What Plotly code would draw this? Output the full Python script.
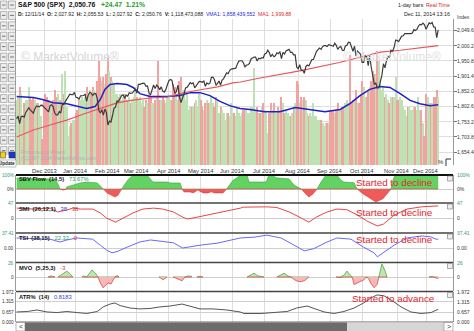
import plotly.graph_objects as go

W, H = 474, 331
FONT = "Liberation Sans, Arial, sans-serif"

# ---------------- trading days (x categories) ----------------
days_2013_11 = [5, 6, 7, 8, 11, 12, 13, 14, 15, 18, 19, 20, 21, 22, 25, 26, 27, 29]
days_2013_12 = [2, 3, 4, 5, 6, 9, 10, 11, 12, 13, 16, 17, 18, 19, 20, 23, 24, 26, 27, 30, 31]
days_2014_01 = [2, 3, 6, 7, 8, 9, 10, 13, 14, 15, 16, 17, 21, 22, 23, 24, 27, 28, 29, 30, 31]
days_2014_02 = [3, 4, 5, 6, 7, 10, 11, 12, 13, 14, 18, 19, 20, 21, 24, 25, 26, 27, 28]
days_2014_03 = [3, 4, 5, 6, 7, 10, 11, 12, 13, 14, 17, 18, 19, 20, 21, 24, 25, 26, 27, 28, 31]
days_2014_04 = [1, 2, 3, 4, 7, 8, 9, 10, 11, 14, 15, 16, 17, 21, 22, 23, 24, 25, 28, 29, 30]
days_2014_05 = [1, 2, 5, 6, 7, 8, 9, 12, 13, 14, 15, 16, 19, 20, 21, 22, 23, 27, 28, 29, 30]
days_2014_06 = [2, 3, 4, 5, 6, 9, 10, 11, 12, 13, 16, 17, 18, 19, 20, 23, 24, 25, 26, 27, 30]
days_2014_07 = [1, 2, 3, 7, 8, 9, 10, 11, 14, 15, 16, 17, 18, 21, 22, 23, 24, 25, 28, 29, 30, 31]
days_2014_08 = [1, 4, 5, 6, 7, 8, 11, 12, 13, 14, 15, 18, 19, 20, 21, 22, 25, 26, 27, 28, 29]
days_2014_09 = [2, 3, 4, 5, 8, 9, 10, 11, 12, 15, 16, 17, 18, 19, 22, 23, 24, 25, 26, 29, 30]
days_2014_10 = [1, 2, 3, 6, 7, 8, 9, 10, 13, 14, 15, 16, 17, 20, 21, 22, 23, 24, 27, 28, 29, 30, 31]
days_2014_11 = [3, 4, 5, 6, 7, 10, 11, 12, 13, 14, 17, 18, 19, 20, 21, 24, 25, 26, 28]
days_2014_12 = [1, 2, 3, 4, 5, 8, 9, 10, 11]

month_keys = ["2013-11", "2013-12", "2014-01", "2014-02", "2014-03", "2014-04", "2014-05",
              "2014-06", "2014-07", "2014-08", "2014-09", "2014-10", "2014-11", "2014-12"]
month_days = [days_2013_11, days_2013_12, days_2014_01, days_2014_02, days_2014_03, days_2014_04,
              days_2014_05, days_2014_06, days_2014_07, days_2014_08, days_2014_09, days_2014_10,
              days_2014_11, days_2014_12]
month_labels = ["Dec 2013", "Jan 2014", "Feb 2014", "Mar 2014", "Apr 2014", "May 2014", "Jun 2014",
                "Jul 2014", "Aug 2014", "Sep 2014", "Oct 2014", "Nov 2014", "Dec 2014"]

# ---------------- daily close ----------------
close_2013_11 = [1762, 1771, 1747, 1770, 1771, 1768, 1783, 1791, 1798, 1791, 1787, 1781, 1795, 1804, 1802, 1802, 1807, 1806]
close_2013_12 = [1800, 1795, 1792, 1785, 1805, 1808, 1802, 1782, 1775, 1775, 1786, 1781, 1810, 1809, 1818, 1827, 1833, 1842, 1841, 1841, 1848]
close_2014_01 = [1832, 1831, 1826, 1837, 1837, 1838, 1842, 1819, 1839, 1848, 1846, 1838, 1844, 1845, 1828, 1790, 1781, 1792, 1774, 1794, 1783]
close_2014_02 = [1742, 1755, 1752, 1773, 1797, 1800, 1820, 1819, 1830, 1838, 1840, 1829, 1839, 1836, 1847, 1845, 1846, 1854, 1859]
close_2014_03 = [1846, 1874, 1874, 1877, 1878, 1877, 1868, 1869, 1846, 1841, 1859, 1872, 1861, 1872, 1866, 1857, 1866, 1852, 1849, 1857, 1872]
close_2014_04 = [1886, 1890, 1888, 1865, 1845, 1851, 1872, 1833, 1815, 1830, 1843, 1863, 1865, 1872, 1880, 1876, 1879, 1863, 1869, 1878, 1884]
close_2014_05 = [1883, 1881, 1885, 1868, 1879, 1875, 1878, 1897, 1898, 1889, 1871, 1878, 1885, 1872, 1888, 1893, 1901, 1912, 1909, 1920, 1924]
close_2014_06 = [1925, 1924, 1927, 1940, 1950, 1951, 1951, 1944, 1931, 1937, 1938, 1942, 1957, 1960, 1963, 1963, 1950, 1959, 1957, 1961, 1960]
close_2014_07 = [1973, 1975, 1985, 1978, 1964, 1972, 1964, 1967, 1977, 1974, 1981, 1958, 1978, 1973, 1983, 1987, 1988, 1978, 1978, 1970, 1970, 1931]
close_2014_08 = [1925, 1938, 1920, 1920, 1910, 1932, 1937, 1934, 1947, 1955, 1955, 1972, 1981, 1987, 1992, 1988, 1997, 2000, 2000, 1997, 2003]
close_2014_09 = [2002, 2000, 1998, 2008, 2001, 1988, 1995, 1997, 1985, 1984, 1999, 2001, 2011, 2010, 1994, 1982, 1998, 1966, 1982, 1978, 1972]
close_2014_10 = [1946, 1946, 1967, 1964, 1935, 1969, 1929, 1906, 1875, 1878, 1862, 1863, 1887, 1904, 1941, 1928, 1951, 1965, 1962, 1985, 1982, 1994, 2018]
close_2014_11 = [2017, 2013, 2024, 2031, 2032, 2039, 2039, 2038, 2039, 2039, 2041, 2052, 2049, 2053, 2064, 2069, 2068, 2073, 2068]
close_2014_12 = [2053, 2066, 2074, 2071, 2075, 2061, 2060, 2026, 2051]

# ---------------- daily volume (billions) ----------------
vol_2013_11 = [2.0, 2.1, 2.4, 2.2, 1.5, 1.9, 2.0, 2.0, 2.4, 2.1, 2.0, 2.1, 2.0, 1.9, 1.9, 1.8, 1.5, 0.8]
vol_2013_12 = [2.0, 2.2, 2.1, 2.0, 1.9, 1.9, 2.0, 2.3, 2.1, 2.2, 2.0, 2.0, 2.8, 2.2, 2.9, 1.8, 0.9, 1.2, 1.3, 1.4, 1.4]
vol_2014_01 = [1.6, 1.7, 2.0, 2.0, 2.1, 2.0, 2.1, 2.4, 2.2, 2.3, 2.2, 2.4, 2.3, 2.2, 2.6, 3.2, 2.7, 2.6, 2.7, 2.5, 2.8]
vol_2014_02 = [3.3, 2.9, 2.7, 2.6, 2.5, 2.2, 2.2, 2.1, 2.2, 2.0, 2.1, 2.2, 2.0, 2.0, 2.1, 1.9, 2.0, 2.1, 2.4]
vol_2014_03 = [2.1, 2.0, 2.1, 1.9, 2.0, 1.8, 2.0, 1.9, 2.2, 2.1, 1.9, 1.9, 2.0, 2.1, 3.2, 2.0, 2.0, 2.1, 2.0, 1.9, 2.1]
vol_2014_04 = [2.1, 2.0, 2.0, 2.5, 2.4, 2.2, 2.0, 2.6, 2.7, 2.3, 2.3, 2.0, 2.2, 1.7, 1.8, 1.8, 1.8, 1.9, 2.0, 1.8, 2.2]
vol_2014_05 = [2.0, 1.8, 1.7, 1.9, 2.0, 1.9, 1.9, 2.1, 1.9, 1.8, 2.1, 2.0, 1.6, 1.8, 1.7, 1.6, 1.4, 1.6, 1.6, 1.5, 1.9]
vol_2014_06 = [1.6, 1.6, 1.5, 1.8, 1.6, 1.5, 1.6, 1.7, 1.7, 1.7, 1.6, 1.6, 1.8, 1.8, 3.0, 1.7, 1.8, 1.6, 1.6, 1.8, 1.9]
vol_2014_07 = [1.7, 1.6, 1.0, 1.6, 1.9, 1.7, 1.9, 1.6, 1.6, 1.8, 1.7, 2.1, 1.9, 1.6, 1.7, 1.6, 1.5, 1.5, 1.6, 1.8, 1.9, 2.6]
vol_2014_08 = [2.5, 1.9, 2.1, 2.0, 2.1, 2.0, 1.6, 1.5, 1.6, 1.5, 1.9, 1.5, 1.5, 1.4, 1.4, 1.4, 1.3, 1.2, 1.3, 1.3, 1.3]
vol_2014_09 = [1.7, 1.7, 1.7, 1.6, 1.7, 1.9, 1.7, 1.7, 1.8, 1.8, 1.9, 2.0, 1.9, 3.4, 1.9, 2.0, 2.0, 2.3, 1.9, 1.9, 2.2]
vol_2014_10 = [2.6, 2.4, 2.1, 2.1, 2.3, 2.4, 2.6, 2.9, 2.8, 2.8, 3.5, 3.2, 2.6, 2.3, 2.4, 2.1, 2.2, 2.0, 1.9, 2.1, 2.1, 2.1, 2.7]
vol_2014_11 = [2.0, 2.0, 2.1, 2.0, 1.8, 1.7, 1.5, 1.8, 1.8, 1.7, 1.7, 1.8, 1.8, 1.7, 2.1, 1.7, 1.7, 1.3, 0.9]
vol_2014_12 = [2.2, 2.1, 1.9, 1.9, 1.9, 2.1, 2.1, 2.3, 2.1]

# ---------------- moving averages (bar index, value) ----------------
vma_bar = [0, 11, 17, 24, 33, 40, 46, 51.5, 55, 58, 61.4, 66, 72.5, 76.5, 81, 87.6, 98.8, 107.4, 114, 120.5, 127,
           133.6, 140, 146.8, 153.3, 163, 173, 183, 192.8, 202.6, 212.5, 219, 225.6, 232, 238.8, 245.3, 252, 258.5,
           265, 271.6, 277]
vma_val = [2.11, 2.08, 2.02, 1.92, 1.89, 1.80, 1.74, 1.80, 2.02, 2.33, 2.48, 2.51, 2.48, 2.39, 2.20, 2.11, 2.11, 2.14,
           2.23, 2.23, 2.14, 1.96, 1.83, 1.74, 1.71, 1.64, 1.64, 1.77, 1.71, 1.64, 1.71, 1.89, 2.14, 2.33, 2.42, 2.39,
           2.20, 1.99, 1.89, 1.83, 1.86]
ma_bar = [0, 11, 22, 33, 44, 55, 66, 76, 88, 99, 109, 120, 132, 142, 147, 160, 186, 212, 239, 252, 265, 277]
ma_val = [1703, 1726, 1742, 1758, 1778, 1797, 1814, 1823, 1830, 1833, 1846, 1856, 1866, 1879, 1882, 1895, 1918,
          1945, 1979, 1985, 1994, 2000]

# ---------------- indicators (bar index, value) ----------------
sbv_bar = [0, 15, 25, 27, 28.5, 30.5, 32.5, 33, 36.4, 41.7, 46, 53, 57, 59.4, 64.6, 66.6, 69, 73, 76.5, 85.7, 87.6,
           89.6, 98.8, 100.8, 107.4, 108.7, 110, 114, 116, 119, 122.5, 125.8, 128, 130, 135.6, 138, 142, 145.5,
           147.4, 151.4, 152.7, 163.9, 165.8, 168, 170.4, 179, 182.3, 187, 189.5, 192, 194.7, 197.4, 200, 203.3,
           210.5, 213, 215, 221.7, 223.7, 227, 232, 236, 240.7, 246, 247.3, 248.6, 276, 277]
sbv_val = [78, 72, 70, 40, 0, -8, 0, 15, 28, 43, 50, 43, 0, -28, -57, -45, 0, 64, 100, 100, 79, 50, 50, 43, 43, 0,
           -21, -21, -28, -7, -28, -28, -20, -28, -28, 0, 60, 86, 100, 100, 50, 50, 100, 100, 80, 72, 28, 0, -30,
           -57, -35, 0, 50, 100, 100, 64, 50, 45, 0, -30, -65, -93, -70, 0, 64, 100, 100, 74]

smi_bar = [0, 11, 22, 27, 33, 37, 42, 50, 55, 59, 65, 70, 76.5, 83, 90, 96, 103, 109, 112, 116, 125, 134, 142, 147,
           149, 156, 164.5, 171, 179, 187, 192, 197, 204, 210.5, 217, 224, 230, 237, 241, 248, 256.5, 266, 274, 277]
smi_val = [31, 28, 31, 19, 25, 31, 28, 28, 16, 0, -13, 0, 16, 28, 31, 28, 19, 3, -3, 0, 9, 16, 25, 31, 34, 35, 35,
           33, 19, 0, -13, 3, 19, 28, 26, 9, -9, -25, -19, 9, 28, 35, 37, 38]

tsi_bar = [0, 11, 22, 28.5, 33, 39.7, 46, 50, 55, 59, 62.7, 66, 72.5, 81, 88, 94, 103, 109, 112, 120.5, 131.7, 142,
           147, 156, 164.5, 173.7, 182, 189, 195, 204, 210.5, 219.7, 228, 234.8, 237, 241, 248, 256.5, 266, 272,
           275.5, 277]
tsi_val = [25, 24, 22, 15, 20, 25, 24, 22, 7, -5, -12, -9, 2, 15, 20, 17, 13, 0, 2, 7, 12, 20, 25, 27, 32, 25, 7, -7,
           -2, 15, 25, 22, 2, -12, -22, -12, 7, 25, 30, 28, 22, 22]

# MVO: None separates drawn stretches
mvo_bar = [20.6, 22.6, 25.2, None, 27.2, 29.8, 33, 35, 37, None,
           43, 44, 46, 47.6, 49.5, 51.5, 53.5, 55, 56.8, 58.7, 60, 62, 63.3, 64.6, 66, 67.3, None,
           93.6, 96.2, 98.8, None, 102.8, 106, 108.7, 110.6, 112.6, 115.2, None, 118.5, 120.5, 122.5, None,
           151.4, 154, 156, 158.6, 162.5, None,
           171, 173.7, 175.7, 178.3, 180.3, 183.6, 187, 189.5, 192, None,
           209.9, 212.5, 215, 217, 219, 220.5, 221.7, 224.3, 226.4, 228.3, 229.6, 231, 232.8, 234.8, 236.8, 238,
           240, 242, 243.4, None, 271, 273, 274, 275.6, 277]
mvo_val = [0, 2, 0, None, 0, 5, 11, 6, 0, None,
           0, 2, 0, 5, 13, 8, 0, -11, -20, -15, -11, -13, -5, 0, 3, 0, None,
           0, -5, 0, None, 0, -3, -7, 0, 2, 1, None, 0, 1, 0, None,
           0, 4, 7, 2, 0, None,
           0, 4, 7, 2, 0, -7, -9, -6, 0, None,
           0, -1, 3, 11, 4, 0, -14, -10, -8, -5, 0, -2, -12, -20, -14, 0,
           24, 12, 0, None, 0, 1, 0, -2, -3]

atr_bar = [0, 7, 13.4, 20, 26.5, 33, 39.7, 46, 53, 56.8, 61.4, 64.6, 68, 74.5, 81, 87.6, 94, 100.8, 108.7, 114,
           120.5, 129, 138, 146.8, 149.4, 160.6, 169, 177.7, 184, 190.8, 195.4, 202, 208.5, 215, 221.7, 228,
           232.8, 236.8, 241.4, 246, 252.6, 259, 265.7, 272.3, 275.6, 277]
atr_val = [0.66, 0.69, 0.79, 0.66, 0.62, 0.69, 0.62, 0.56, 0.69, 0.99, 1.18, 1.25, 1.08, 0.92, 0.86, 0.89, 0.99,
           1.05, 1.18, 1.05, 0.86, 0.86, 0.79, 0.66, 0.56, 0.56, 0.62, 0.69, 0.92, 1.05, 0.89, 0.66, 0.56, 0.69,
           0.92, 1.25, 1.58, 1.78, 1.72, 1.45, 0.99, 0.66, 0.56, 0.62, 0.78, 0.82]

price_ticks = [2049.6, 2000.2, 1950.8, 1901.4, 1852.0, 1802.6, 1753.2, 1703.8, 1654.4]

# ---------------- derived ----------------
dates = [f"{k}-{d:02d}" for k, ds in zip(month_keys, month_days) for d in ds]
bars = list(range(len(dates)))
close = (close_2013_11 + close_2013_12 + close_2014_01 + close_2014_02 + close_2014_03 + close_2014_04 +
         close_2014_05 + close_2014_06 + close_2014_07 + close_2014_08 + close_2014_09 + close_2014_10 +
         close_2014_11 + close_2014_12)
volume = (vol_2013_11 + vol_2013_12 + vol_2014_01 + vol_2014_02 + vol_2014_03 + vol_2014_04 + vol_2014_05 +
          vol_2014_06 + vol_2014_07 + vol_2014_08 + vol_2014_09 + vol_2014_10 + vol_2014_11 + vol_2014_12)
month_start = [dates.index(f"{k}-{ds[0]:02d}") for k, ds in zip(month_keys[1:], month_days[1:])]
vol_colors = ["#bfe2b5" if i == 0 or close[i] >= close[i - 1] else "#f3a2a2" for i in bars]


def px(x):
    return x / W


def py(y):
    return 1 - y / H


XL, XR = 16, 453
x_range = [-0.4, 286.7]

fig = go.Figure()

# main chart
fig.add_trace(go.Bar(x=bars, y=volume, marker=dict(color=vol_colors, line=dict(width=0)), width=0.72,
                     xaxis="x", yaxis="y"))
fig.add_trace(go.Scatter(x=vma_bar, y=vma_val, mode="lines", line=dict(color="#1c22c8", width=1.5),
                         xaxis="x", yaxis="y"))
fig.add_trace(go.Scatter(x=ma_bar, y=ma_val, mode="lines", line=dict(color="#e8555a", width=1.1),
                         xaxis="x", yaxis="y7"))
fig.add_trace(go.Scatter(x=bars, y=close, mode="lines", line=dict(color="#3c3c3c", width=1.2),
                         xaxis="x", yaxis="y7"))

# SBV flow
fig.add_trace(go.Scatter(x=sbv_bar, y=[max(v, 0) for v in sbv_val], mode="lines", fill="tozeroy",
                         fillcolor="#62d262", line=dict(color="#35a535", width=0.6), xaxis="x2", yaxis="y2"))
fig.add_trace(go.Scatter(x=sbv_bar, y=[min(v, 0) for v in sbv_val], mode="lines", fill="tozeroy",
                         fillcolor="#f05a5a", line=dict(color="#d83a3a", width=0.6), xaxis="x2", yaxis="y2"))
# SMI
fig.add_trace(go.Scatter(x=smi_bar, y=smi_val, mode="lines", line=dict(color="#e84545", width=1),
                         xaxis="x3", yaxis="y3"))
# TSI
fig.add_trace(go.Scatter(x=tsi_bar, y=tsi_val, mode="lines", line=dict(color="#6a6af5", width=1),
                         xaxis="x4", yaxis="y4"))
# MVO segments
seg_x, seg_y = [], []
for bx, bv in zip(mvo_bar + [None], mvo_val + [None]):
    if bx is None:
        if seg_x:
            fig.add_trace(go.Scatter(x=seg_x, y=[max(v, 0) for v in seg_y], mode="lines", fill="tozeroy",
                                     fillcolor="#bfe6b0", line=dict(color="#4aa84a", width=0.8),
                                     xaxis="x5", yaxis="y5"))
            fig.add_trace(go.Scatter(x=seg_x, y=[min(v, 0) for v in seg_y], mode="lines", fill="tozeroy",
                                     fillcolor="#f6b8b8", line=dict(color="#e04848", width=0.8),
                                     xaxis="x5", yaxis="y5"))
        seg_x, seg_y = [], []
    else:
        seg_x.append(bx)
        seg_y.append(bv)
# ATR%
fig.add_trace(go.Scatter(x=atr_bar, y=atr_val, mode="lines", line=dict(color="#555555", width=1),
                         xaxis="x6", yaxis="y6"))

# ---------------- axes ----------------
GRID = "#dedede"
panels = [  # name, top px, bottom px, range, grid vals
    ("sbv", 175, 203, [-100, 100], [0]),
    ("smi", 203, 233, [-47, 47], [0]),
    ("tsi", 233, 263, [-37.41, 37.41], [0]),
    ("mvo", 263, 291, [-26, 26], [0]),
    ("atr", 292, 322, [0, 1.972], [1.315, 0.657]),
]
xcommon = dict(range=x_range, tickvals=month_start, showticklabels=False, showgrid=True, gridcolor=GRID,
               gridwidth=1, zeroline=False, showline=False, ticks="", domain=[px(XL), px(XR)])
layout = dict(
    width=W, height=H, autosize=False, margin=dict(l=0, r=0, t=0, b=0),
    paper_bgcolor="white", plot_bgcolor="white", showlegend=False, bargap=0,
    font=dict(family=FONT, size=6, color="#333"),
    xaxis=dict(anchor="y", **xcommon),
    yaxis=dict(domain=[py(165), py(19)], range=[0, 4.5], visible=False, fixedrange=True),
    yaxis7=dict(overlaying="y", side="right", anchor="x", range=[1612.15, 2086.65], tickvals=price_ticks,
                showticklabels=False, showgrid=True, gridcolor=GRID, zeroline=False, ticks="outside",
                ticklen=3, tickcolor="#777", showline=True, mirror=True, linecolor="#9a9a9a", linewidth=1),
)
for k, (name, top, bot, rng, gv) in enumerate(panels, start=2):
    layout[f"xaxis{k}"] = dict(anchor=f"y{k}", matches="x", **xcommon)
    layout[f"yaxis{k}"] = dict(domain=[py(bot), py(top)], range=rng, tickvals=gv, showticklabels=False,
                               showgrid=True, gridcolor="#cfcfcf", zeroline=False, ticks="", side="right",
                               showline=True, mirror=True, linecolor="#9a9a9a", linewidth=1, anchor=f"x{k}")
fig.update_layout(**layout)

# ---------------- text ----------------
ann = []


def text(x, y, s, size=6, color="#333", xa="left", ya="middle", xref="paper", yref="paper"):
    ann.append(dict(x=px(x) if xref == "paper" else x, y=py(y) if yref == "paper" else y, xref=xref, yref=yref,
                    text=s, showarrow=False, xanchor=xa, yanchor=ya, borderpad=0,
                    font=dict(size=size, color=color, family=FONT)))


# header
text(17, 4.5, "<b>S&P 500 (SPX)&nbsp; 2,050.76&nbsp;&nbsp; <span style='color:#1f9e2a'>+24.47&nbsp; 1.21%</span></b>",
     size=6.8, color="#111")
text(17, 13.5, "<b>D:</b> 12/11/14&nbsp; <b>O:</b> 2,027.92&nbsp; <b>H:</b> 2,055.53&nbsp; <b>L:</b> 2,027.92&nbsp; "
               "<b>C:</b> 2,050.76&nbsp; <b>V:</b> 1,118,473,088&nbsp; "
               "<span style='color:#2a2ad8'>VMA1: 1,858,439,552</span>&nbsp; "
               "<span style='color:#e02828'>MA1: 1,999.88</span>", size=5.1, color="#222")
text(451, 4.5, "1-day bars: <span style='color:#e02020'>Real Time</span>", size=5.3, xa="right", color="#222")
text(451, 13.5, "Dec 11, 2014 13:16", size=5.3, xa="right", color="#222")
text(456, 17, "Index", size=5.0, color="#333")

# watermarks
text(20, 57, "© MarketVolume®", size=12, color="#d6d6d6")
text(342, 57, "© MarketVolume®", size=12, color="#e2e2e2")
text(20, 152, "Protected by Patent", size=5, color="#b0b0b0")
text(20, 158, "(C)1997-2014 MarketVolume.com", size=5, color="#b0b0b0")

# price axis labels
for v in price_ticks:
    text(455.5, v, f"{v:,.1f}", size=5.0, yref="y7")

# month labels
for m, lab in zip(month_start, month_labels):
    text(m, 170.5, lab, size=5.8, xa="center", xref="x", color="#333")

# panel scale labels (right and left)
TEAL = "#2e9a78"
scale_labels = [
    ("y2", [(100, "100%", TEAL), (0, "0%", "#333")]),
    ("y3", [(47, "47", TEAL), (0, "0", "#333")]),
    ("y4", [(37.41, "37.41", TEAL), (0, "0.00", "#333")]),
    ("y5", [(26, "26", TEAL), (0, "0", "#333")]),
    ("y6", [(1.972, "1.972", "#333"), (1.315, "1.315", "#333"), (0.657, "0.657", "#333"), (0, "0.000", "#333")]),
]
for yref, items in scale_labels:
    for v, s, c in items:
        text(455.5, v, s, size=5.0, color=c, yref=yref)
        text(14.6, v, s, size=4.7, color=c, yref=yref, xa="right")

# panel titles
RED = "#e2262c"
text(18, 179, "<b>SBV Flow&nbsp; (14,5)</b>&nbsp;&nbsp; <span style='color:#2a9a6a'>73.67%</span>", size=5.8, color="#111")
text(18, 208.5, "<b>SMI&nbsp; (26,12,1)</b>&nbsp;&nbsp; <span style='color:#4040d8'>38</span>&nbsp;&nbsp; "
                "<span style='color:#e03030'>38</span>", size=5.8, color="#111")
text(18, 238, "<b>TSI&nbsp; (38,15)</b>&nbsp;&nbsp; <span style='color:#2a9a7a'>22.32</span>&nbsp;&nbsp; "
              "<span style='color:#e03030'>0</span>", size=5.8, color="#111")
text(18, 267.5, "<b>MVO&nbsp; (5,25,3)</b>&nbsp;&nbsp; <span style='color:#e03030'>-3</span>", size=5.8, color="#111")
text(18, 296.5, "<b>ATR%&nbsp; (14)</b>&nbsp;&nbsp; <span style='color:#4040d8'>0.8183</span>", size=5.8, color="#111")

# comments
text(394, 183, "Started to decline", size=9.8, color=RED, xa="center")
text(394, 212, "Started to decline", size=9.8, color=RED, xa="center")
text(394, 239.5, "Started to decline", size=9.8, color=RED, xa="center")
text(393, 298, "Started to advance", size=9.8, color=RED, xa="center")

# misc UI text
text(441, 162, "%", size=6, color="#333", xa="center")
text(15.8, 163.5, "<b>Update</b>", size=4.6, color="#222", xa="right")
text(20.5, 326.8, "<", size=7, color="#333", xa="center")
text(448.5, 326.8, ">", size=7, color="#333", xa="center")

# ---------------- shapes ----------------
shapes = []


def rect(x0, y0, x1, y1, fill, line="rgba(0,0,0,0)", lw=0):
    shapes.append(dict(type="rect", xref="paper", yref="paper", x0=px(x0), x1=px(x1), y0=py(y1), y1=py(y0),
                       fillcolor=fill, line=dict(color=line, width=lw), layer="above"))


def hline(x0, x1, y, color, w):
    shapes.append(dict(type="line", xref="paper", yref="paper", x0=px(x0), x1=px(x1), y0=py(y), y1=py(y),
                       line=dict(color=color, width=w), layer="above"))


# panel separators
hline(XL, XR, 175, "#111", 2)
for yy in (203, 233, 262.5, 291.5):
    hline(XL, XR, yy, "#444", 1.5)
hline(XL, XR, 322, "#666", 1)
# small panel corner boxes
for yy in (176, 204, 234, 263.5, 292.5):
    rect(447.5, yy, 452.5, yy + 5, "#eeeeee", "#777", 0.6)
# % corner box
shapes.append(dict(type="path", xref="paper", yref="paper",
                   path=f"M {px(446)},{py(166)} L {px(446)},{py(159)} L {px(451)},{py(159)}",
                   line=dict(color="#333", width=1), layer="above"))

# toolbar
for k in range(15):
    y0 = 1 + 10.4 * k
    rect(0.5, y0, 7, y0 + 8, "#ececec", "#8c8c8c", 0.6)
    rect(8.5, y0, 15.5, y0 + 8, "#ececec", "#8c8c8c", 0.6)
    hline(2, 5.5, y0 + 4, "#555", 0.8)
    hline(10, 14, y0 + 4, "#555", 0.8)
rect(0.5, 152, 5.5, 158, "#f2d21a", "#555", 0.6)
rect(9, 152, 15, 158, "#1838e0", "#333", 0.6)
rect(0, 160, 16, 167, "white", "#999", 0.6)

# scrollbar
rect(16, 322.5, 25, 331, "white", "#888", 0.6)
rect(25, 322.5, 347, 331, "#6c6c6c")
rect(347, 322.5, 444, 331, "#d6d6d6")
rect(444, 322.5, 453, 331, "white", "#888", 0.6)

fig.update_layout(annotations=ann, shapes=shapes)
fig.write_html("out.html", config={"displayModeBar": False})
